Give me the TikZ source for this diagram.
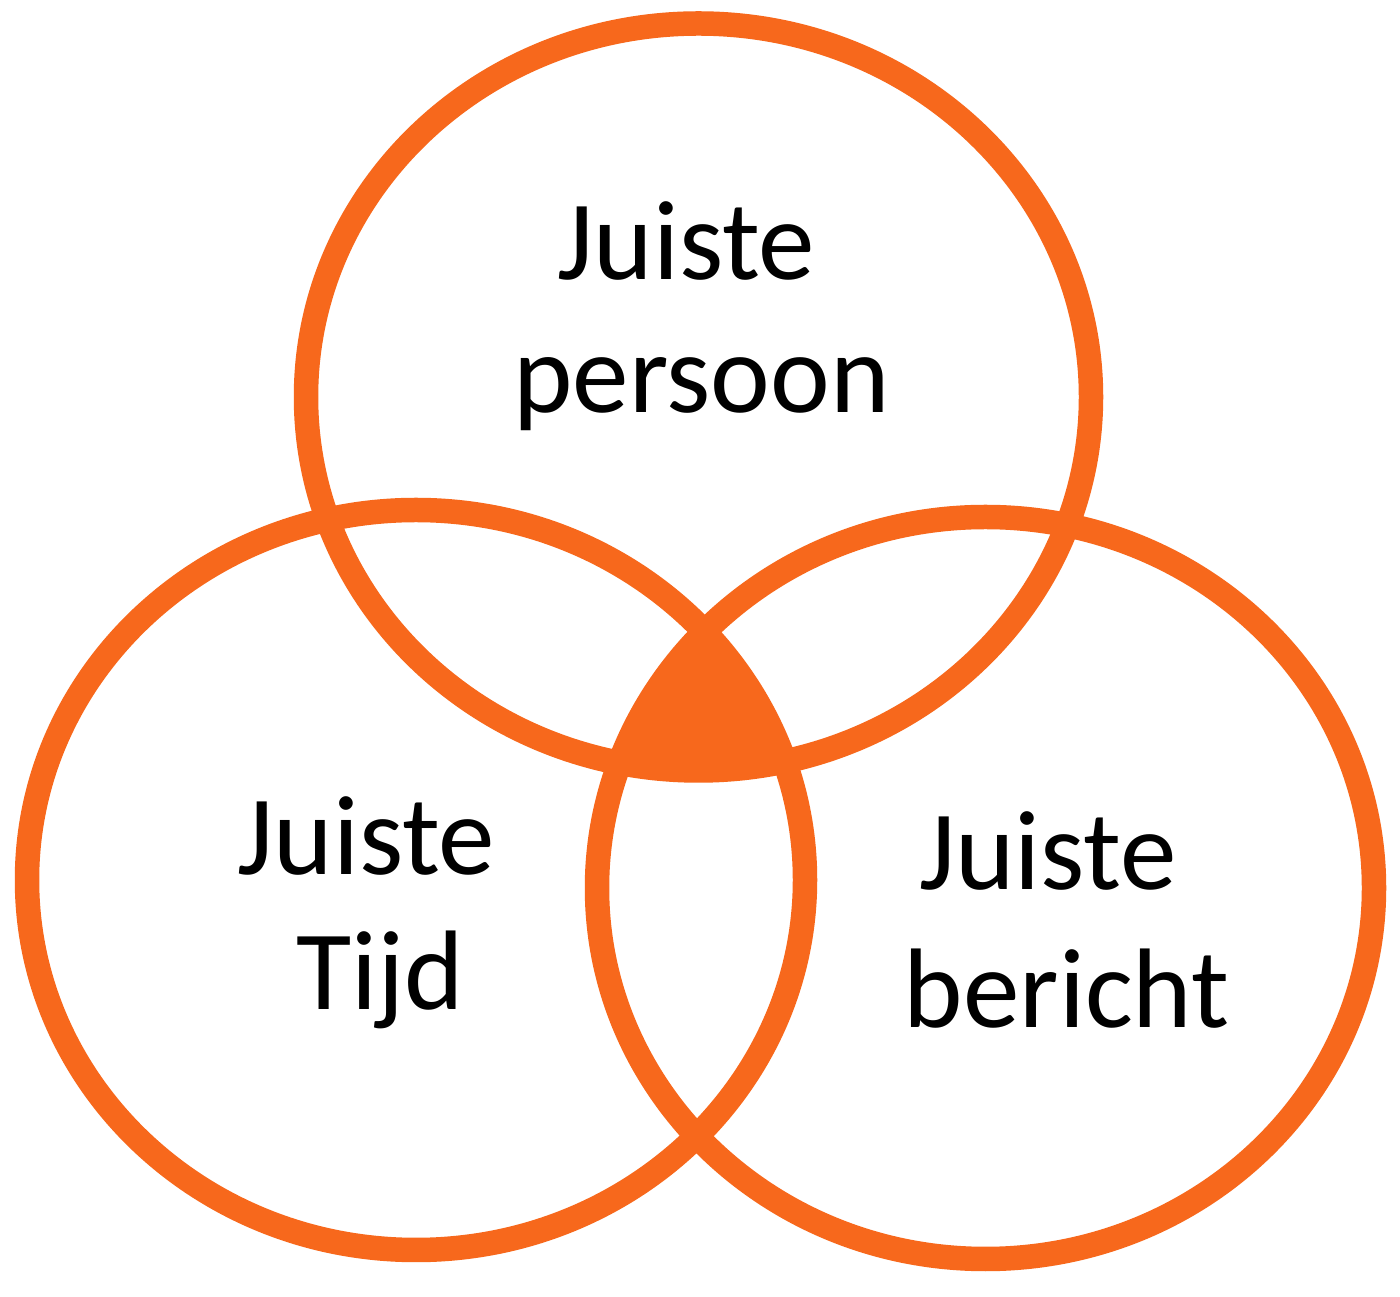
\documentclass[tikz,border=0pt]{standalone}
\usepackage{fontspec}
\setmainfont{Carlito}
\definecolor{vorange}{RGB}{247,104,28}
\begin{document}
\begin{tikzpicture}[x=1cm,y=1cm,
  ring/.style={draw=vorange, line width=0.245cm},
  lbl/.style={anchor=base, inner sep=0pt, font=\fontsize{32.2pt}{38pt}\selectfont, text=black}]
\useasboundingbox (0,0) rectangle (14,12.96);
\fill[white] (0,0) rectangle (14,12.96);
\coordinate (ct) at (6.985,8.99);
\coordinate (cl) at (4.16,4.16);
\coordinate (cr) at (9.855,4.08);
% triple intersection
\begin{scope}
  \clip (ct) ellipse [x radius=3.925, y radius=3.735];
  \clip (cl) ellipse [x radius=3.89, y radius=3.70];
  \fill[vorange] (cr) ellipse [x radius=3.885, y radius=3.71];
\end{scope}
\draw[ring] (ct) ellipse [x radius=3.925, y radius=3.735];
\draw[ring] (cl) ellipse [x radius=3.89, y radius=3.70];
\draw[ring] (cr) ellipse [x radius=3.885, y radius=3.71];
\node[lbl] (t1) at (6.865,10.16) {Juiste};
\node[lbl] (t2) at (7.015,8.83) {persoon};
\node[lbl] (l1) at (3.665,4.21) {Juiste};
\node[lbl] (l2) at (3.80,2.86) {Tijd};
\node[lbl] (r1) at (10.48,4.06) {Juiste};
\node[lbl] (r2) at (10.665,2.68) {bericht};
\end{tikzpicture}
\end{document}
